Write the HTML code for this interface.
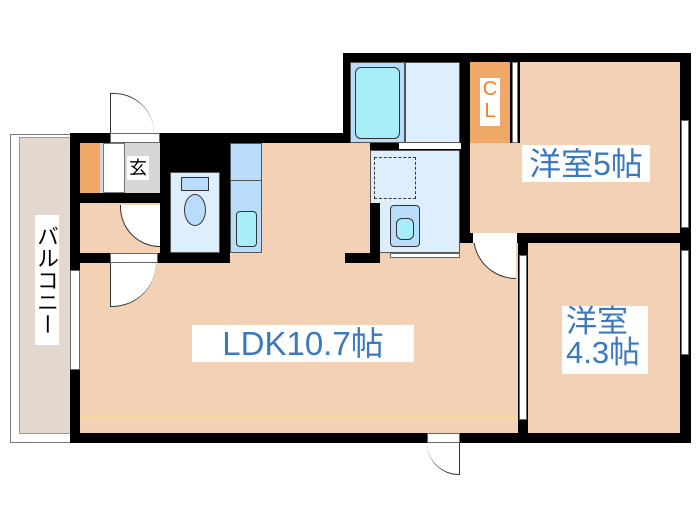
<!DOCTYPE html>
<html><head><meta charset="utf-8"><style>
body{margin:0;width:700px;height:525px;background:#fff;position:relative;overflow:hidden;font-family:"Liberation Sans","Noto Sans CJK JP",sans-serif}
div{position:absolute;box-sizing:border-box}
.k{background:#000}
.p{background:#f2d1b4}
.lb{background:#ddeefd}
.b{background:#b9dcfb}
.o{background:#f0a868}
.t{background:#fff;color:#3c78c0;text-align:center;line-height:1}
</style></head><body>
<!-- balcony -->
<div style="left:10px;top:134px;width:62px;height:309px;border:1px solid #777;background:#fff"></div>
<div style="left:19px;top:137px;width:52px;height:297px;background:#e2d8ce;border:1px solid #999"></div>
<div style="left:35px;top:215px;width:24px;height:130px;background:#fff;color:#000;font-size:22px;line-height:25px;text-align:center;writing-mode:vertical-rl">バルコニー</div>
<!-- walls base -->
<div class="k" style="left:70px;top:133px;width:280px;height:310px"></div>
<div class="k" style="left:343px;top:53px;width:348px;height:390px"></div>
<!-- LDK -->
<div class="p" style="left:80px;top:263px;width:438px;height:170px"></div>
<div class="p" style="left:230px;top:143px;width:115px;height:120px"></div>
<div class="p" style="left:262px;top:143px;width:83px;height:120px"></div>
<div class="p" style="left:345px;top:143px;width:25px;height:110px"></div>
<div class="p" style="left:380px;top:253px;width:138px;height:12px"></div>
<div class="p" style="left:460px;top:243px;width:58px;height:22px"></div>
<div class="p" style="left:80px;top:203px;width:80px;height:50px"></div>
<div style="left:80px;top:416px;width:438px;height:1px;background:#f5dc9a"></div>
<!-- entrance -->
<div class="o" style="left:80px;top:143px;width:20px;height:50px"></div>
<div style="left:100px;top:143px;width:60px;height:50px;background:#d6d6d6"></div>
<div style="left:103px;top:143px;width:22px;height:50px;background:#fff;border:1px solid #777"></div>
<div style="left:127px;top:156px;width:22px;height:24px;background:#fff;font-size:18px;line-height:24px;text-align:center">玄</div>
<div style="left:110px;top:133px;width:50px;height:10px;background:#fff;border:1px solid #666"></div>
<div style="left:110px;top:93px;width:44px;height:40px;border-left:1px solid #333;border-top:1px solid #333;border-top-right-radius:44px;background:#fff"></div>
<!-- toilet/storage -->
<div class="lb" style="left:170px;top:172px;width:50px;height:81px;border:1px solid #555"></div>
<div class="b" style="left:181px;top:177px;width:28px;height:14px;border:1px solid #333"></div>
<div class="b" style="left:184px;top:194px;width:22px;height:32px;border:1px solid #333;border-radius:50%"></div>
<div class="b" style="left:230px;top:143px;width:32px;height:110px;border:1px solid #555"></div>
<div style="left:230px;top:180px;width:32px;height:1px;background:#555"></div>
<div style="left:236px;top:211px;width:21px;height:36px;background:#a8eef8;border:1px solid #333;border-radius:4px"></div>
<div style="left:120px;top:205px;width:40px;height:42px;border-bottom:1px solid #333;border-left:1px solid #333;border-bottom-left-radius:42px;background:#fff"></div>
<div style="left:110px;top:253px;width:48px;height:10px;background:#fff;border:1px solid #666"></div>
<div style="left:110px;top:263px;width:46px;height:44px;border-left:1px solid #333;border-bottom:1px solid #333;border-bottom-right-radius:46px;background:#fff"></div>
<div style="left:70px;top:270px;width:10px;height:100px;background:#fff;border:1px solid #666"></div>
<!-- bath -->
<div class="b" style="left:350px;top:62px;width:55px;height:81px;border:1px solid #555"></div>
<div style="left:355px;top:67px;width:45px;height:72px;background:#a8eef8;border:1px solid #333;border-radius:6px"></div>
<div class="lb" style="left:405px;top:62px;width:55px;height:81px;border:1px solid #555"></div>
<div style="left:399px;top:143px;width:62px;height:6px;background:#fff"></div>
<!-- wash -->
<div class="lb" style="left:370px;top:150px;width:90px;height:103px;border:1px solid #555"></div>
<div style="left:374px;top:157px;width:42px;height:42px;border:1px dashed #333"></div>
<div class="k" style="left:370px;top:203px;width:10px;height:50px"></div>
<div class="b" style="left:390px;top:205px;width:30px;height:42px;border:1px solid #333;border-radius:4px"></div>
<div style="left:396px;top:218px;width:18px;height:22px;background:#a8eef8;border:1px solid #333;border-radius:6px"></div>
<div style="left:390px;top:253px;width:70px;height:5px;background:#fff;border:1px solid #666"></div>
<!-- CL & rooms -->
<div class="o" style="left:470px;top:62px;width:40px;height:81px"></div>
<div style="left:480px;top:78px;width:20px;height:48px;background:#fff;color:#f08020;font-size:20px;line-height:22px;text-align:center">C<br>L</div>
<div style="left:512px;top:62px;width:6px;height:81px;background:#fff;border:1px solid #777"></div>
<div class="p" style="left:470px;top:143px;width:210px;height:90px"></div>
<div class="p" style="left:520px;top:62px;width:160px;height:90px"></div>
<div class="p" style="left:528px;top:243px;width:152px;height:190px"></div>
<div style="left:681px;top:120px;width:8px;height:108px;background:#fff;border:1px solid #666"></div>
<div style="left:681px;top:250px;width:8px;height:105px;background:#fff;border:1px solid #666"></div>
<div style="left:519px;top:255px;width:8px;height:165px;background:#fff;border:1px solid #666"></div>
<div style="left:473px;top:235px;width:43px;height:44px;border-left:1px solid #333;border-bottom:1px solid #333;border-bottom-left-radius:43px;background:#fff"></div>
<div style="left:473px;top:233px;width:44px;height:10px;background:#fff"></div>
<!-- bottom door -->
<div style="left:427px;top:433px;width:33px;height:10px;background:#fff;border:1px solid #666"></div>
<div style="left:427px;top:443px;width:33px;height:32px;border-right:1px solid #333;border-bottom:1px solid #333;border-bottom-left-radius:33px;background:#fff"></div>
<!-- labels -->
<div class="t" style="left:192px;top:325px;width:222px;height:37px;font-size:33px;padding-top:2px">LDK10.7帖</div>
<div class="t" style="left:522px;top:145px;width:128px;height:37px;font-size:32px;padding-top:3px">洋室5帖</div>
<div class="t" style="left:562px;top:306px;width:86px;height:68px;font-size:31px;text-align:left;padding-left:4px">洋室<br>4.3帖</div>
</body></html>
